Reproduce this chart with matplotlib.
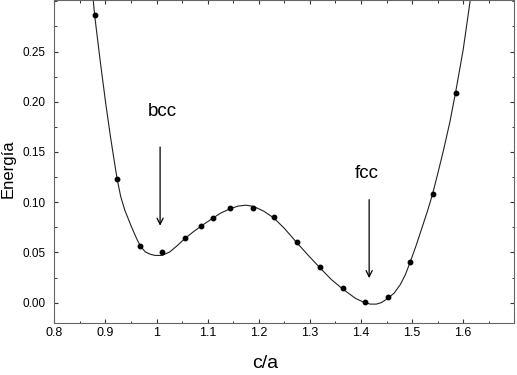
import matplotlib
matplotlib.use("Agg")
import matplotlib.pyplot as plt
from matplotlib.ticker import MultipleLocator

plt.rcParams['font.family'] = ['Liberation Sans', 'DejaVu Sans']

# measured data points
ca_points = [0.879, 0.923, 0.968, 1.011, 1.056, 1.088, 1.110, 1.144, 1.188,
             1.230, 1.275, 1.320, 1.364, 1.407, 1.452, 1.496, 1.540, 1.585]
energy_points = [0.286, 0.123, 0.0566, 0.0506, 0.064, 0.0759, 0.0842, 0.0939, 0.094,
                 0.085, 0.060, 0.035, 0.015, 0.0002, 0.0052, 0.040, 0.108, 0.2086]

# fitted curve
ca_curve = [0.876, 0.879, 0.890, 0.901, 0.910, 0.917, 0.923, 0.930, 0.938, 0.951,
            0.960, 0.968, 0.978, 0.987, 0.997, 1.011, 1.026, 1.040, 1.056, 1.072,
            1.088, 1.110, 1.125, 1.144, 1.160, 1.175, 1.190, 1.210, 1.229, 1.250,
            1.274, 1.297, 1.320, 1.342, 1.362, 1.375, 1.390, 1.405, 1.418, 1.430,
            1.440, 1.452, 1.465, 1.477, 1.487, 1.496, 1.508, 1.519, 1.530, 1.540,
            1.551, 1.562, 1.574, 1.585, 1.600, 1.614]
energy_curve = [0.302, 0.286, 0.240, 0.197, 0.165, 0.142, 0.123, 0.1055, 0.092, 0.0755,
                0.065, 0.0566, 0.0505, 0.0483, 0.0470, 0.0470, 0.0505, 0.0565, 0.064, 0.0705,
                0.0765, 0.0840, 0.089, 0.0935, 0.0962, 0.097, 0.0958, 0.091, 0.0845, 0.074,
                0.060, 0.047, 0.0345, 0.023, 0.0145, 0.0095, 0.004, 0.0005, -0.0015, -0.0015,
                0.000, 0.004, 0.0095, 0.018, 0.028, 0.040, 0.057, 0.074, 0.091, 0.108,
                0.130, 0.153, 0.180, 0.209, 0.252, 0.302]

# annotations: label, text position, arrow start, arrow tip
labels = ["bcc", "fcc"]
label_pos = [(1.012, 0.190), (1.412, 0.129)]
arrow_start = [(1.007, 0.155), (1.416, 0.1025)]
arrow_tip = [(1.007, 0.0766), (1.416, 0.0244)]

fig = plt.figure(figsize=(5.17, 3.75), dpi=100)
ax = fig.add_axes([0.105, 0.1395, 0.8898, 0.8595])

ax.plot(ca_curve, energy_curve, color='#222222', lw=0.8)
ax.plot(ca_points, energy_points, 'o', color='black', ms=3.2)

for lab, tp, s, t in zip(labels, label_pos, arrow_start, arrow_tip):
    ax.text(tp[0], tp[1], lab, fontsize=13.5, ha='center', va='center')
    ax.annotate('', xy=t, xytext=s,
                arrowprops=dict(arrowstyle='->', lw=0.9, color='black',
                                mutation_scale=11, shrinkA=0, shrinkB=0))

ax.set_xlim(0.8, 1.7)
ax.set_ylim(-0.02, 0.301)
ax.xaxis.set_minor_locator(MultipleLocator(0.05))
ax.yaxis.set_minor_locator(MultipleLocator(0.025))
ax.set_xticks([0.8, 0.9, 1.0, 1.1, 1.2, 1.3, 1.4, 1.5, 1.6])
ax.set_xticklabels(['0.8', '0.9', '1', '1.1', '1.2', '1.3', '1.4', '1.5', '1.6'])
ax.set_yticks([0.0, 0.05, 0.10, 0.15, 0.20, 0.25])
ax.set_yticklabels(['0.00', '0.05', '0.10', '0.15', '0.20', '0.25'])

ax.tick_params(which='both', direction='in', top=True, right=True,
               color='#333333')
ax.tick_params(axis='x', labelsize=9, pad=3)
ax.tick_params(axis='y', labelsize=8.5, pad=6)
ax.tick_params(which='major', length=3.0, width=0.8)
ax.tick_params(which='minor', length=1.8, width=0.7)
for sp in ax.spines.values():
    sp.set_color('#666666')
    sp.set_linewidth(0.8)

ax.set_xlabel('c/a', fontsize=14)
ax.set_ylabel('Energía', fontsize=12)
ax.xaxis.set_label_coords(0.458, -0.1)
ax.yaxis.set_label_coords(-0.085, 0.479)

fig.savefig('out.png', dpi=100)
